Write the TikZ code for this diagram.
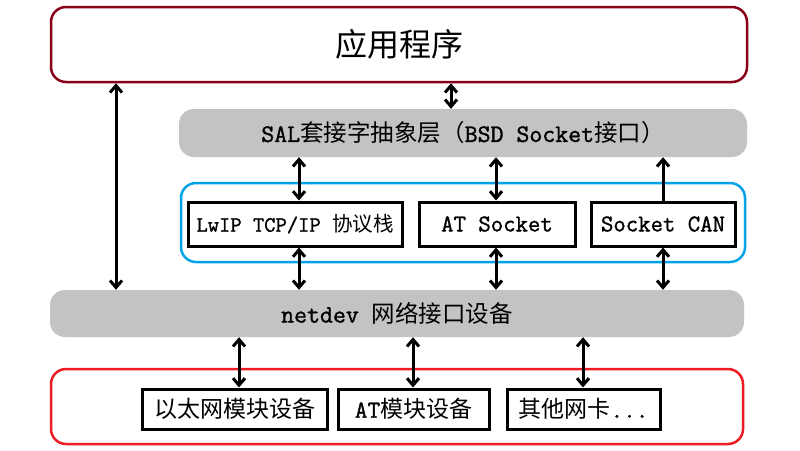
\documentclass[tikz,border=0pt]{standalone}
\usepackage{fontspec}
\setmainfont{Noto Sans CJK SC}
\newfontfamily\cjk{Noto Sans CJK SC}
\setmonofont{Latin Modern Mono}[Scale=1.07, FakeBold=1.2]
\usetikzlibrary{arrows.meta}
\definecolor{topred}{HTML}{880018}
\definecolor{botred}{HTML}{ED1C24}
\definecolor{bluec}{HTML}{00A2E8}
\definecolor{grayc}{HTML}{C3C3C3}
\newcommand\Lt[1]{{\ttfamily #1}}
\tikzset{
  frame/.style={draw, line width=2.5pt, rounded corners=15pt, inner sep=0pt},
  layer/.style={fill=grayc, rounded corners=15pt, inner sep=0pt, font=\cjk\fontsize{23.5}{28}\selectfont},
  blk/.style={draw=black, line width=3pt, fill=white, inner sep=0pt, minimum height=44pt, font=\cjk\fontsize{20.5}{24}\selectfont},
  bigtext/.style={font=\cjk\fontsize{22.5}{26}\selectfont},
  devtext/.style={font=\cjk\fontsize{23}{26}\selectfont},
  dblarrow/.style={line width=3pt, {Straight Barb[length=7pt,width=12pt]}-{Straight Barb[length=7pt,width=12pt]}},
  uparrow/.style={line width=3pt, -{Straight Barb[length=7pt,width=12pt]}}
}
\begin{document}
\begin{tikzpicture}[x=1pt,y=-1pt]
\useasboundingbox (0,0) rectangle (800,450);
% frames
\node[frame, draw=topred, minimum width=696pt, minimum height=75pt, font=\cjk\fontsize{32}{38}\selectfont] (app) at (399,44.5) {应用程序};
\node[layer, minimum width=568pt, minimum height=48pt] (sal) at (463,133) {\Lt{SAL}套接字抽象层（\Lt{BSD Socket}接口）};
\node[frame, draw=bluec, minimum width=564pt, minimum height=79pt] (stack) at (463,222.5) {};
\node[blk, minimum width=214pt] (lwip) at (295,224) {\Lt{LwIP TCP/IP }协议栈};
\node[blk, bigtext, minimum width=156pt] (atsock) at (497,224) {\Lt{AT Socket}};
\node[blk, bigtext, minimum width=144pt] (can) at (663,224) {\Lt{Socket CAN}};
\node[layer, minimum width=694pt, minimum height=47pt] (netdev) at (397,313.5) {\Lt{netdev }网络接口设备};
\node[frame, draw=botred, minimum width=692pt, minimum height=75pt] (hw) at (397,406.5) {};
\node[blk, devtext, minimum width=185pt, minimum height=40pt] (eth) at (234.5,409) {以太网模块设备};
\node[blk, devtext, minimum width=151pt, minimum height=40pt] (atdev) at (413.5,409) {\Lt{AT}模块设备};
\node[blk, devtext, minimum width=153pt, minimum height=40pt] (other) at (583.5,409) {其他网卡\Lt{...}};
% arrow columns
\coordinate (c1) at (116,0);
\coordinate (c2) at (451,0);
\coordinate (c3) at (299,0);
\coordinate (c4) at (496,0);
\coordinate (c5) at (663,0);
\coordinate (c6) at (239,0);
\coordinate (c7) at (413,0);
\coordinate (c8) at (583,0);
% connectors
\draw[dblarrow] (app.south -| c1) -- (netdev.north -| c1);
\draw[dblarrow] (app.south -| c2) -- (sal.north -| c2);
\draw[dblarrow] (sal.south -| c3) -- (lwip.north -| c3);
\draw[dblarrow] (sal.south -| c4) -- (atsock.north -| c4);
\draw[uparrow] (can.north -| c5) -- (sal.south -| c5);
\draw[dblarrow] (lwip.south -| c3) -- (netdev.north -| c3);
\draw[dblarrow] (atsock.south -| c4) -- (netdev.north -| c4);
\draw[dblarrow] (can.south -| c5) -- (netdev.north -| c5);
\draw[dblarrow] (netdev.south -| c6) -- (eth.north -| c6);
\draw[dblarrow] (netdev.south -| c7) -- (atdev.north -| c7);
\draw[dblarrow] (netdev.south -| c8) -- (other.north -| c8);
\end{tikzpicture}
\end{document}
